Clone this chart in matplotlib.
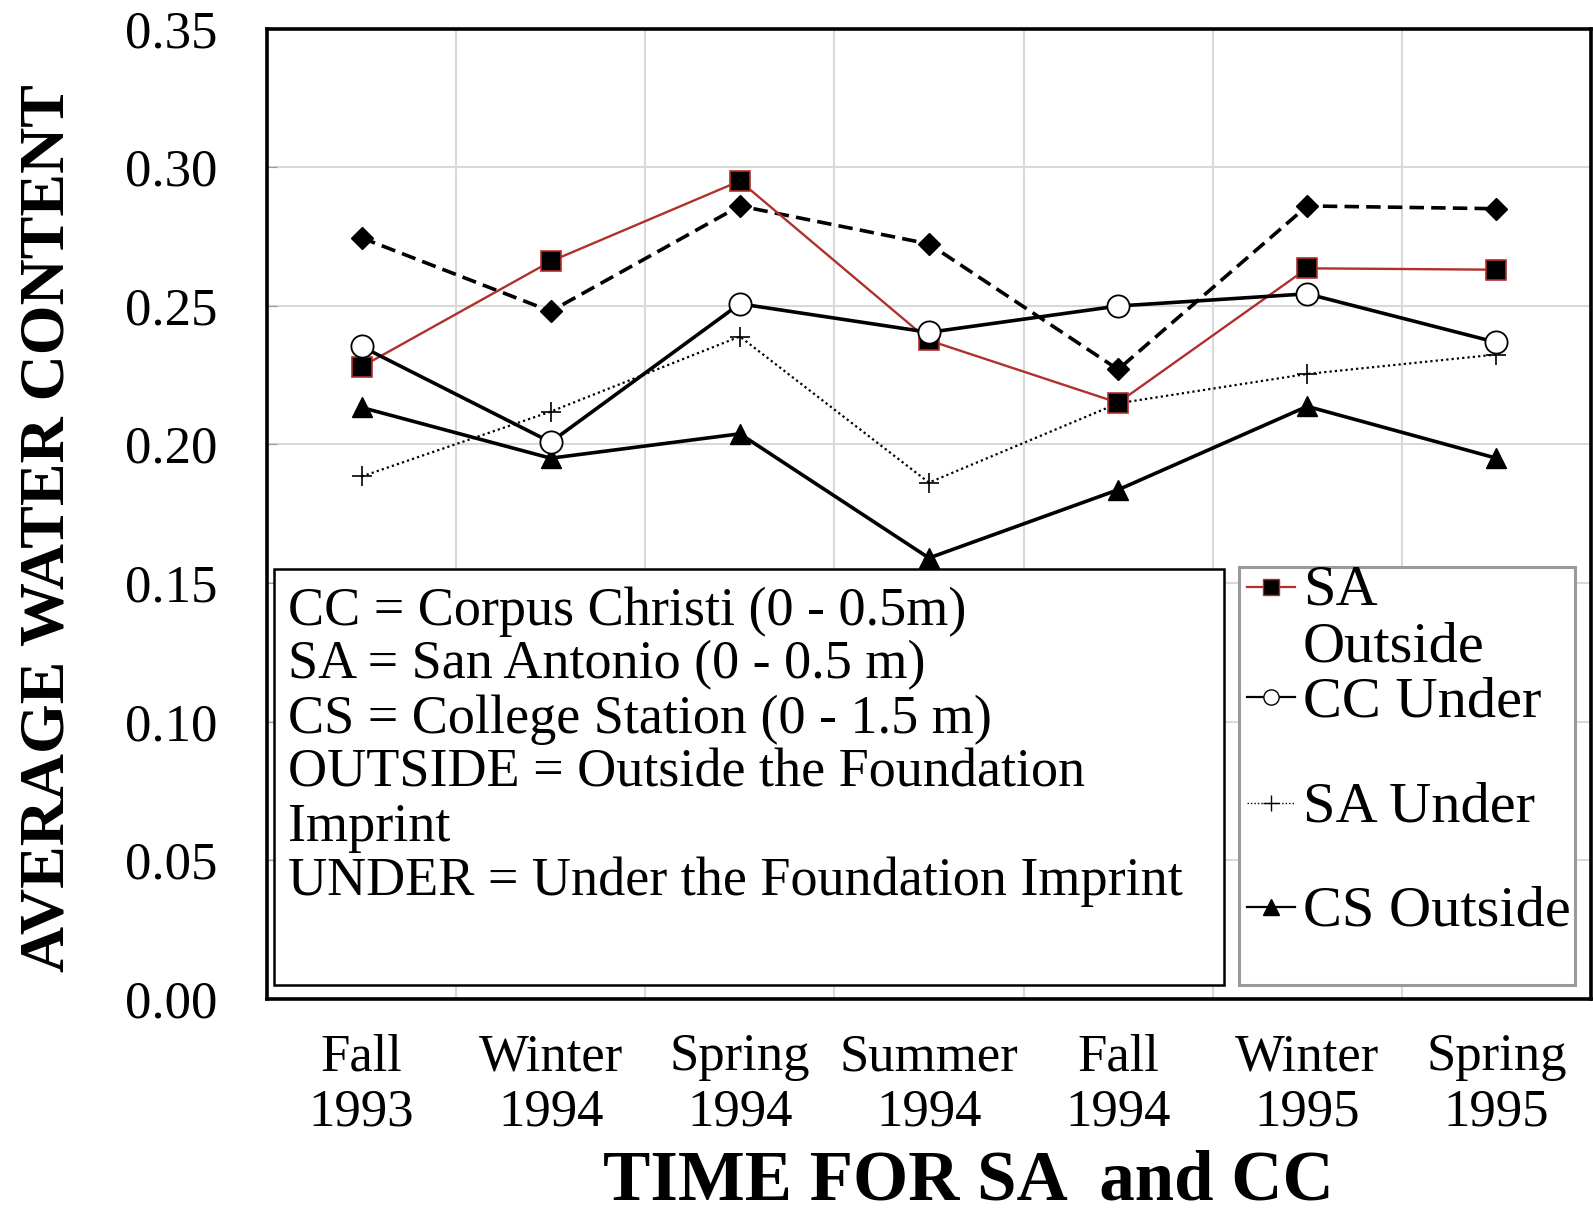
import matplotlib

matplotlib.use("Agg")
import matplotlib.pyplot as plt
from matplotlib.patches import Rectangle

plt.rcParams["font.family"] = ["Liberation Serif", "DejaVu Serif"]

# seasons sampled at the San Antonio and Corpus Christi sites
seasons = ["Fall\n1993", "Winter\n1994", "Spring\n1994", "Summer\n1994",
           "Fall\n1994", "Winter\n1995", "Spring\n1995"]

sa_outside = [0.228, 0.266, 0.295, 0.2375, 0.215, 0.2635, 0.263]
cc_outside = [0.2745, 0.248, 0.286, 0.2723, 0.227, 0.286, 0.285]
cc_under = [0.2353, 0.2008, 0.2507, 0.2404, 0.2499, 0.2543, 0.2368]
sa_under = [0.1884, 0.2118, 0.2389, 0.1862, 0.2148, 0.2254, 0.2324]
cs_outside = [0.2133, 0.195, 0.2038, 0.159, 0.1836, 0.2137, 0.195]

y_ticks = [0.00, 0.05, 0.10, 0.15, 0.20, 0.25, 0.30, 0.35]

note_lines = [
    "CC = Corpus Christi (0 - 0.5m)",
    "SA = San Antonio (0 - 0.5 m)",
    "CS = College Station (0 - 1.5 m)",
    "OUTSIDE = Outside the Foundation",
    "Imprint",
    "UNDER = Under the Foundation Imprint",
]

RED = "#b0302c"

fig = plt.figure(figsize=(15.93, 12.14), dpi=100)
ax = fig.add_axes([0.1676, 0.1773, 0.8311, 0.7992])

x = list(range(len(seasons)))

ax.plot(x, cc_outside, color="black", lw=2.6, ls=(0, (4, 2)), marker="D",
        ms=11, mfc="black", mec="black", zorder=3)
ax.plot(x, sa_outside, color=RED, lw=1.7, marker="s", ms=14,
        mfc="black", mec=RED, mew=1.2, zorder=4)
ax.plot(x, cc_under, color="black", lw=2.6, marker="o", ms=16,
        mfc="white", mec="black", mew=1.3, zorder=5)
ax.plot(x, sa_under, color="black", lw=1.6, ls=(0, (1, 1.4)), marker="+",
        ms=14, mew=1.2, zorder=3)
ax.plot(x, cs_outside, color="black", lw=2.6, marker="^", ms=15,
        mfc="black", mec="black", zorder=3)

ax.set_xlim(-0.5, len(seasons) - 0.5)
ax.set_ylim(0, 0.35)
ax.set_yticks(y_ticks)
ax.set_yticklabels([f"{v:.2f}" for v in y_ticks], fontsize=38)
ax.set_xticks(x)
ax.set_xticklabels(seasons, fontsize=38)
for t in ax.get_xticklabels():
    t.set_linespacing(1.2)
ax.set_xticks([i + 0.5 for i in x[:-1]], minor=True)

ax.tick_params(axis="x", which="major", length=0, pad=25)
ax.tick_params(axis="x", which="minor", length=0)
ax.tick_params(axis="y", which="major", direction="in", length=7,
               color="#999999", pad=36)
ax.grid(True, axis="y", which="major", color="#d9d9d9", lw=1.5, zorder=0)
ax.grid(True, axis="x", which="minor", color="#d9d9d9", lw=1.5, zorder=0)
ax.set_axisbelow(True)
for spine in ax.spines.values():
    spine.set_linewidth(2.6)
    spine.set_color("black")

ax.text(-0.165, 0.485, "AVERAGE WATER CONTENT", transform=ax.transAxes,
        rotation=90, ha="center", va="center", fontsize=46, fontweight="bold")
ax.text(0.53, -0.2065, "TIME FOR SA  and CC", transform=ax.transAxes,
        ha="center", va="baseline", fontsize=51, fontweight="bold")

# abbreviation key
ax.add_patch(Rectangle((0.0053, 0.0141), 0.7175, 0.4288, transform=ax.transAxes,
                       facecolor="white", edgecolor="black", lw=1.8, zorder=6))
for i, line in enumerate(note_lines):
    ax.text(0.0155, 0.3857 - i * 0.0557, line, transform=ax.transAxes,
            ha="left", va="baseline", fontsize=39, zorder=7)

# series key
ax.add_patch(Rectangle((0.7345, 0.0141), 0.2534, 0.4309, transform=ax.transAxes,
                       facecolor="white", edgecolor="#9a9a9a", lw=2.2, zorder=6))
key_styles = [
    dict(color=RED, lw=1.6, marker="s", ms=11, mfc="black", mec=RED),
    dict(color="black", lw=1.6, marker="o", ms=11, mfc="white", mec="black"),
    dict(color="black", lw=1.0, ls=(0, (1, 1.5)), marker="+", ms=11),
    dict(color="black", lw=1.6, marker="^", ms=11, mfc="black", mec="black"),
]
key_labels = ["SA\nOutside", "CC Under", "SA Under", "CS Outside"]
key_rows = [0.4247, 0.311, 0.2019, 0.0946]
key_line_step = 0.0577
for style, label, yk in zip(key_styles, key_labels, key_rows):
    ax.plot([0.7406, 0.7586, 0.7766], [yk, yk, yk], transform=ax.transAxes,
            markevery=[1], clip_on=False, zorder=7, **style)
    # multi-line labels sit on the baseline of their last line
    extra = label.count("\n") * key_line_step
    ax.text(0.7825, yk - 0.0196 - extra, label, transform=ax.transAxes,
            ha="left", va="baseline", fontsize=42, linespacing=1.14,
            zorder=7, multialignment="left")

fig.savefig("out.png", dpi=100)
